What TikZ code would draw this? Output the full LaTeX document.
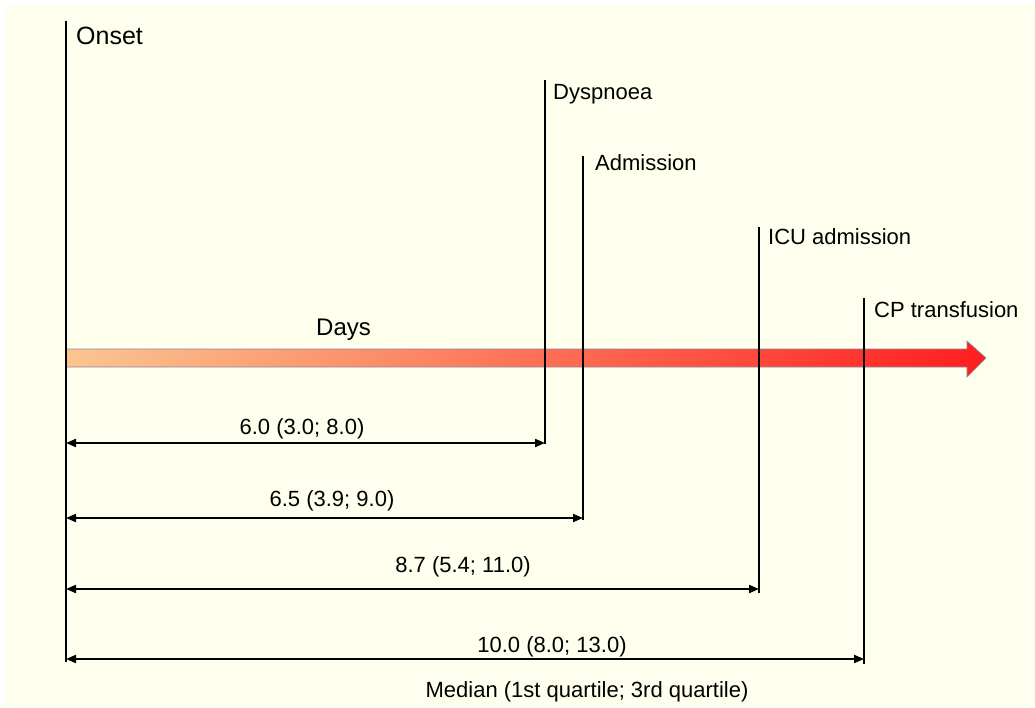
\documentclass[tikz,border=0pt]{standalone}
\usepackage{fontspec}
\setmainfont{Liberation Sans}
\usetikzlibrary{arrows.meta,calc,positioning}

\definecolor{bgcream}{HTML}{FFFFEE}
\definecolor{daysorange}{HTML}{FBC690}
\definecolor{dayssalmon}{HTML}{F9A27C}
\definecolor{daysred}{HTML}{FF1E1E}
\definecolor{arrowedge}{HTML}{8A8AAA}

\begin{document}
\begin{tikzpicture}[x=1pt, y=-1pt,
  evlab/.style={anchor=base west, inner sep=0pt, font=\fontsize{22}{22}\selectfont},
  dimlab/.style={anchor=base, inner sep=0pt, font=\fontsize{22}{22}\selectfont},
  evline/.style={line width=1.6pt},
  dimarrow/.style={line width=2pt, {Triangle[length=10pt,width=8pt]}-{Triangle[length=10pt,width=8pt]}}]

% Background
\useasboundingbox (0,0) rectangle (1035,707);
\fill[bgcream] (6,5) rectangle (1035,707);

% Days arrow
\shade[left color=daysorange, middle color=dayssalmon, right color=daysred, draw=arrowedge, line width=0.6pt]
  (66,349) -- (967,349) -- (967,341) -- (986,358) -- (967,377) -- (967,367) -- (66,367) -- cycle;
\node[evlab, font=\fontsize{24}{24}\selectfont] (days) at (316,335) {Days};

% Onset line
\coordinate (onset top) at (66,21);
\coordinate (onset bot) at (66,662);
\draw[evline] (onset top) -- (onset bot);
\node[evlab, font=\fontsize{25}{25}\selectfont] (onset lab) at (76,44) {Onset};

% Event lines
\foreach \name/\x/\top/\bot/\lx/\ly/\txt in {
  dysp/545/80/444/553/99/Dyspnoea,
  adm/583/156/520/595/170/Admission,
  icu/759/227/593/768/244/ICU admission,
  cp/864/298/664/874/317/CP transfusion} {
 \coordinate (\name top) at (\x,\top);
 \coordinate (\name bot) at (\x,\bot);
 \draw[evline] (\name top) -- (\name bot);
 \node[evlab] (\name lab) at (\lx,\ly) {\txt};
}

% Durations
\foreach \name/\x/\y/\lx/\ly/\txt in {
  dysp/545/443/302/434/6.0 (3.0; 8.0),
  adm/583/518/332/506/6.5 (3.9; 9.0),
  icu/759/589/463/572/8.7 (5.4; 11.0),
  cp/864/659/552/652/10.0 (8.0; 13.0)} {
 \coordinate (\name start) at (66,\y);
 \coordinate (\name end) at (\x,\y);
 \draw[dimarrow] (\name start) -- (\name end);
 \node[dimlab] (\name dur) at (\lx,\ly) {\txt};
}

% Legend text
\node[dimlab] (median) at (587,697) {Median (1st quartile; 3rd quartile)};
\end{tikzpicture}
\end{document}
